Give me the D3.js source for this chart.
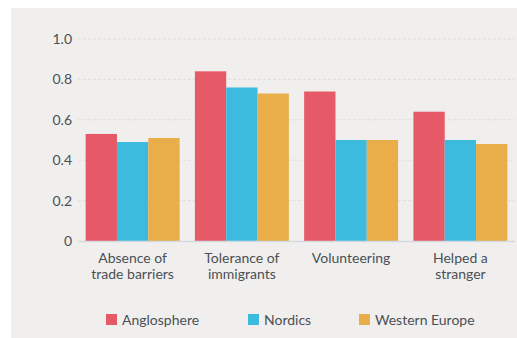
<!DOCTYPE html>
<html>
<head>
<meta charset="utf-8">
<script src="https://cdn.jsdelivr.net/npm/d3@7"></script>
<style>
  html, body { margin: 0; padding: 0; background: #ffffff; }
  svg { display: block; }
  text { font-family: Lato, "Open Sans", sans-serif; fill: #4b5057; }
</style>
</head>
<body>
<svg id="chart" width="517" height="338"></svg>
<script>
// Indicator categories (two-line labels) and region series
const categories = ["Absence of trade barriers", "Tolerance of immigrants", "Volunteering", "Helped a stranger"];
const categoryLines = [["Absence of", "trade barriers"], ["Tolerance of", "immigrants"], ["Volunteering"], ["Helped a", "stranger"]];
const seriesNames = ["Anglosphere", "Nordics", "Western Europe"];
const anglosphere = [0.53, 0.84, 0.74, 0.64];
const nordics = [0.49, 0.76, 0.50, 0.50];
const westernEurope = [0.51, 0.73, 0.50, 0.48];
const yTicks = [0, 0.2, 0.4, 0.6, 0.8, 1.0];
const colors = ["#e65a67", "#3dbbde", "#e9ae49"];

const seriesValues = [anglosphere, nordics, westernEurope];

const svg = d3.select("#chart");
const W = 517, H = 338;

// Panel background
svg.append("rect").attr("x", 11).attr("y", 8).attr("width", W - 11).attr("height", H - 8)
  .attr("fill", "#f0efed");

const plot = { left: 78, right: 515, top: 39, bottom: 241 };

const x = d3.scaleBand().domain(categories).range([plot.left, plot.right])
  .paddingInner(0.14).paddingOuter(0.07);
const xs = d3.scaleBand().domain(seriesNames).range([0, x.bandwidth()]);
const y = d3.scaleLinear().domain([0, 1]).range([plot.bottom, plot.top]);

// Gridlines
svg.append("g").selectAll("line").data(yTicks.filter(d => d > 0)).join("line")
  .attr("x1", plot.left).attr("x2", plot.right)
  .attr("y1", d => y(d)).attr("y2", d => y(d))
  .attr("stroke", "#dcdde2").attr("stroke-width", 1).attr("stroke-dasharray", "3,2");

// Y tick labels
const yAxis = d3.axisLeft(y).tickValues(yTicks)
  .tickFormat(d => d === 0 ? "0" : d3.format(".1f")(d)).tickSize(0).tickPadding(6);
const gy = svg.append("g").attr("transform", `translate(${plot.left},0)`).call(yAxis);
gy.select(".domain").remove();
gy.selectAll("text").attr("font-size", 14).attr("fill", "#4b5057")
  .attr("font-family", "Lato, sans-serif");

// Bars
const groups = svg.append("g").selectAll("g").data(categories).join("g")
  .attr("transform", d => `translate(${x(d)},0)`);
groups.selectAll("rect")
  .data((c, i) => seriesNames.map((s, j) => ({ s, j, v: seriesValues[j][i] })))
  .join("rect")
  .attr("x", d => xs(d.s)).attr("width", xs.bandwidth())
  .attr("y", d => y(d.v)).attr("height", d => y(0) - y(d.v))
  .attr("fill", d => colors[d.j]);

// Baseline
svg.append("line").attr("x1", plot.left).attr("x2", plot.right)
  .attr("y1", y(0) + 0.5).attr("y2", y(0) + 0.5)
  .attr("stroke", "#d3d9e0").attr("stroke-width", 1.5);

// Category labels
const xl = svg.append("g").selectAll("text").data(categories).join("text")
  .attr("x", d => x(d) + x.bandwidth() / 2).attr("y", 263)
  .attr("text-anchor", "middle").attr("font-size", 14);
xl.selectAll("tspan").data((d, i) => categoryLines[i]).join("tspan")
  .attr("x", function () { return d3.select(this.parentNode).attr("x"); })
  .attr("dy", (d, k) => k === 0 ? 0 : 15.5)
  .text(d => d);

// Legend
const legendX = [106, 248, 359];
const lg = svg.append("g").selectAll("g").data(seriesNames).join("g")
  .attr("transform", (d, i) => `translate(${legendX[i]},314)`);
lg.append("rect").attr("width", 11).attr("height", 11).attr("fill", (d, i) => colors[i]);
lg.append("text").attr("x", 16).attr("y", 10.5).attr("font-size", 14).text(d => d);
</script>
</body>
</html>
